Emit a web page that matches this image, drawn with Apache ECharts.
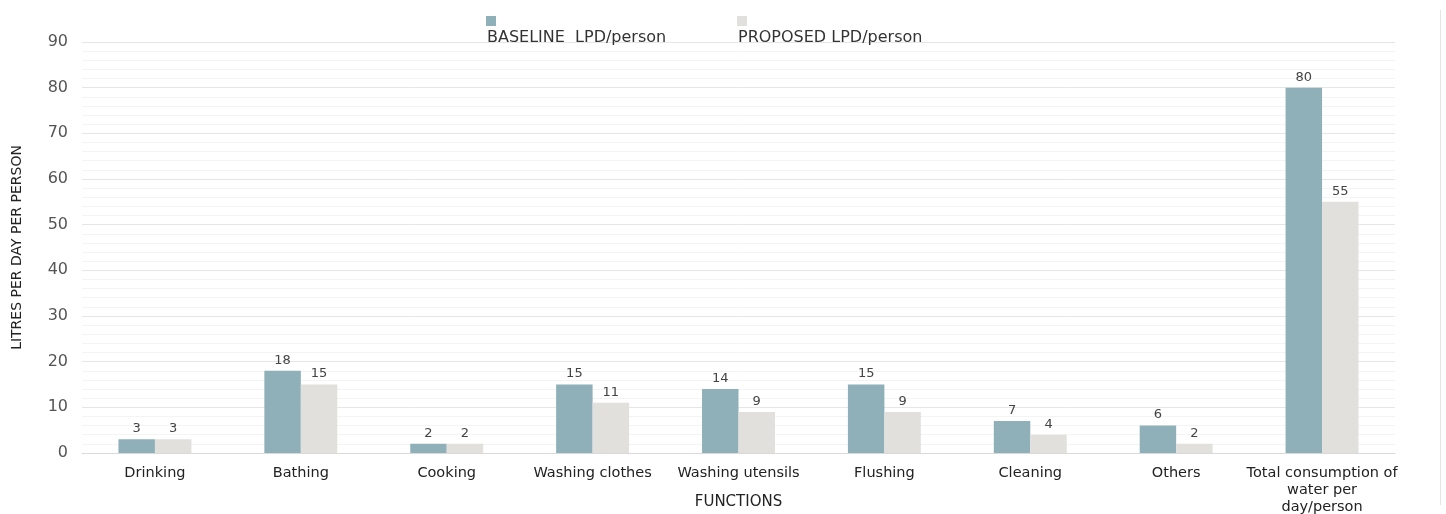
<!DOCTYPE html>
<html>
<head>
<meta charset="utf-8">
<style>
  html, body { margin: 0; padding: 0; background: #fff; }
  #chart { width: 1446px; height: 514px; }
</style>
<script src="https://cdn.jsdelivr.net/npm/echarts@6/dist/echarts.min.js"></script>
</head>
<body>
<div id="chart"></div>
<script>
// Water use per function, litres per day per person
const categories = [
  'Drinking', 'Bathing', 'Cooking', 'Washing clothes', 'Washing utensils',
  'Flushing', 'Cleaning', 'Others', 'Total consumption of water per day/person'
];
const baselineValues = [3, 18, 2, 15, 14, 15, 7, 6, 80];
const proposedValues = [3, 15, 2, 11, 9, 9, 4, 2, 55];
const seriesNames = ['BASELINE  LPD/person', 'PROPOSED LPD/person'];
const yTicks = { min: 0, max: 90, interval: 10 };

const FONT = 'DejaVu Sans';
const chart = echarts.init(document.getElementById('chart'), null, { renderer: 'canvas' });

const wrapLabel = (name) =>
  name === categories[8] ? 'Total consumption of\nwater per\nday/person' : name;

// legend text sits below its swatch
const legendCommon = {
  top: 11, icon: 'rect', itemWidth: 10, itemHeight: 10, itemGap: 0, selectedMode: false,
  formatter: (name) => '{t|' + name + '}',
  textStyle: {
    rich: { t: { fontFamily: FONT, fontSize: 16, color: '#333', padding: [34, 0, 0, -14] } }
  }
};

chart.setOption({
  animation: false,
  textStyle: { fontFamily: FONT },
  color: ['#8fb0b9', '#e1e0dc'],
  legend: [
    Object.assign({ data: [seriesNames[0]], left: 481 }, legendCommon),
    Object.assign({ data: [seriesNames[1]], left: 732 }, legendCommon)
  ],
  grid: { left: 82, right: 51, top: 42, bottom: 61, containLabel: false, outerBoundsMode: 'none' },
  xAxis: {
    type: 'category',
    data: categories,
    name: 'FUNCTIONS',
    nameLocation: 'middle',
    nameGap: 42,
    nameMoveOverlap: false,
    nameTextStyle: { fontFamily: FONT, fontSize: 15, color: '#222' },
    axisLine: { lineStyle: { color: '#d9d9d9', width: 1 } },
    axisTick: { show: false },
    axisLabel: {
      interval: 0, fontSize: 14.5, color: '#222', margin: 12, lineHeight: 17,
      formatter: wrapLabel
    }
  },
  yAxis: {
    type: 'value',
    min: yTicks.min, max: yTicks.max, interval: yTicks.interval,
    name: 'LITRES PER DAY PER PERSON',
    nameLocation: 'middle',
    nameGap: 58,
    nameMoveOverlap: false,
    nameTextStyle: { fontFamily: FONT, fontSize: 14, color: '#222' },
    axisLine: { show: false },
    axisTick: { show: false },
    axisLabel: { fontSize: 16, color: '#555', margin: 14 },
    splitLine: { lineStyle: { color: '#e6e6e6', width: 1 } },
    minorTick: { show: false, splitNumber: 5 },
    minorSplitLine: { show: true, lineStyle: { color: '#f4f4f4', width: 1 } }
  },
  series: [
    {
      name: seriesNames[0], type: 'bar', data: baselineValues,
      barWidth: '25%', barGap: '0%',
      label: { show: true, position: 'top', fontSize: 13, color: '#444', distance: 4 }
    },
    {
      name: seriesNames[1], type: 'bar', data: proposedValues,
      barWidth: '25%', barGap: '0%',
      label: { show: true, position: 'top', fontSize: 13, color: '#444', distance: 4 }
    }
  ],
  graphic: [
    { type: 'line', shape: { x1: 1440.5, y1: 10, x2: 1440.5, y2: 505 },
      style: { stroke: '#e4e4e4', lineWidth: 1 } }
  ]
});
</script>
</body>
</html>
